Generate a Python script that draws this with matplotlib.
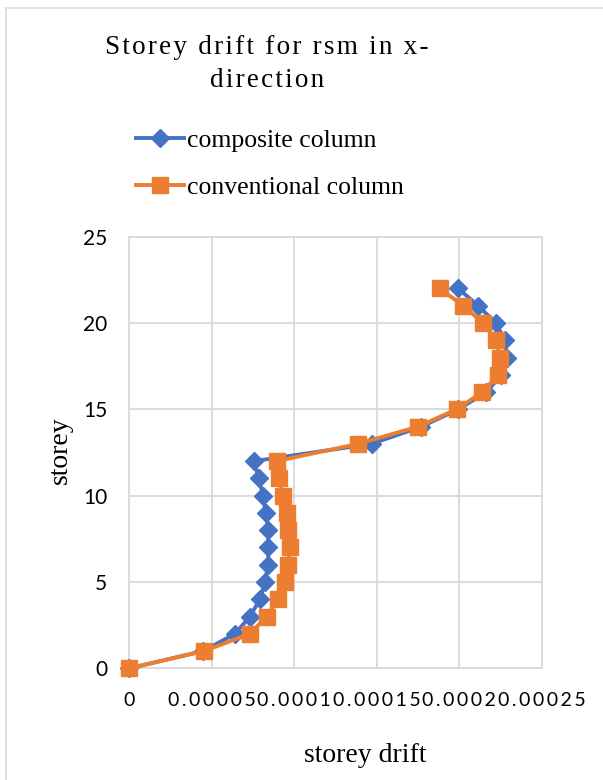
import matplotlib
matplotlib.use('Agg')
import matplotlib.pyplot as plt
from matplotlib.patches import Rectangle

# 数据
storeys = list(range(23))
composite = [0, 4.49e-5, 6.41e-5, 7.32e-5, 7.92e-5, 8.23e-5, 8.43e-5, 8.43e-5,
             8.43e-5, 8.27e-5, 8.12e-5, 7.84e-5, 7.58e-5, 1.469e-4, 1.772e-4,
             1.995e-4, 2.166e-4, 2.257e-4, 2.288e-4, 2.278e-4, 2.223e-4,
             2.116e-4, 1.995e-4]
conventional = [0, 4.53e-5, 7.32e-5, 8.33e-5, 9.03e-5, 9.44e-5, 9.64e-5, 9.74e-5,
                9.64e-5, 9.54e-5, 9.30e-5, 9.09e-5, 8.93e-5, 1.388e-4, 1.752e-4,
                1.985e-4, 2.142e-4, 2.237e-4, 2.247e-4, 2.227e-4, 2.146e-4,
                2.025e-4, 1.884e-4]
xticks = [0, 0.00005, 0.0001, 0.00015, 0.0002, 0.00025]
xtick_labels = ['0', '0.00005', '0.0001', '0.00015', '0.0002', '0.00025']
yticks = [0, 5, 10, 15, 20, 25]
ytick_labels = ['0', '5', '10', '15', '20', '25']

SERIF = ['Liberation Serif', 'DejaVu Serif']
SANS = ['Lato', 'DejaVu Sans']
BLUE = '#4472C4'
ORANGE = '#ED7D31'
GRID = '#D9D9D9'


def spaced(s, sp='\u200a'):
    return sp.join(s)


W, H = 603, 780
fig = plt.figure(figsize=(W / 100, H / 100), dpi=100)
ax = fig.add_axes([129.3 / W, 1 - 668.3 / H, (541.5 - 129.3) / W, (668.3 - 236.7) / H])

# 外框
fig.patches.append(Rectangle((6 / W, -0.1), 1.2, 1 - 8 / H + 0.1, transform=fig.transFigure,
                             fill=False, edgecolor=GRID, linewidth=1.2))

l1, = ax.plot(composite, storeys, color=BLUE, lw=2.8, marker='D', markersize=9,
              label='composite column', clip_on=False, zorder=3)
l2, = ax.plot(conventional, storeys, color=ORANGE, lw=2.8, marker='s', markersize=12,
              label='conventional column', clip_on=False, zorder=4)

ax.set_xlim(0, 0.00025)
ax.set_ylim(0, 25)
ax.set_xticks(xticks)
ax.set_xticklabels([spaced(t, '\u2009') for t in xtick_labels], family=SANS, fontsize=14)
ax.set_yticks(yticks)
ax.set_yticklabels(ytick_labels, family=SANS, fontsize=15)
ax.tick_params(length=0, pad=17, axis='x')
ax.tick_params(length=0, pad=16, axis='y')
ax.grid(True, color=GRID, lw=1.3)
for s in ax.spines.values():
    s.set_color(GRID)
    s.set_linewidth(1.3)

fig.text(60 / W, 1 - 450 / H, 'storey', rotation=90, family=SERIF, fontsize=20,
         ha='center', va='center')
fig.text(365 / W, 1 - 756 / H, 'storey drift', family=SERIF, fontsize=20,
         ha='center', va='center')

fig.text(267 / W, 1 - 64 / H, spaced('Storey drift for rsm in x-') + '\n' + spaced('direction'),
         family=SERIF, fontsize=19.5, ha='center', va='center', multialignment='center',
         linespacing=1.4)

fig.legend(handles=[l1, l2], loc='center left', bbox_to_anchor=(136 / W, 1 - 164 / H),
           frameon=False, prop={'family': SERIF, 'size': 18.5}, handlelength=1.85,
           handletextpad=0.12, labelspacing=0.95, borderpad=0, borderaxespad=0)

fig.savefig('out.png', dpi=100)
